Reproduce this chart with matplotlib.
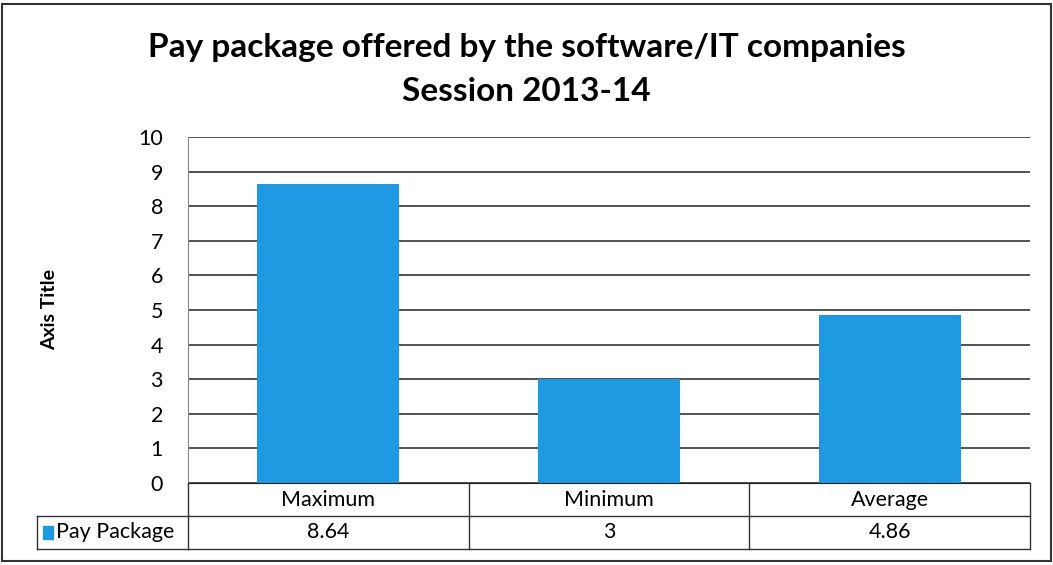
import numpy as np
import matplotlib.pyplot as plt
from matplotlib.patches import Rectangle
from matplotlib.lines import Line2D
import matplotlib.transforms as mtransforms

plt.rcParams['font.family'] = ['Lato', 'DejaVu Sans']

categories = ['Maximum', 'Minimum', 'Average']
pay_package = [8.64, 3, 4.86]
value_labels = ['8.64', '3', '4.86']
series_name = 'Pay Package'
bar_color = '#1f9ae2'

W, H = 1053, 565
fig = plt.figure(figsize=(W / 100, H / 100), dpi=100)

# plot area in pixels
left, right, top, bottom = 188, 1030, 137, 483
ax = fig.add_axes([left / W, 1 - bottom / H, (right - left) / W, (bottom - top) / H])

x = np.arange(len(categories))
ax.bar(x, pay_package, width=0.507, color=bar_color, zorder=2)
ax.set_xlim(-0.5, len(categories) - 0.5)
ax.set_ylim(0, 10)
ax.set_yticks(range(0, 11))
ax.yaxis.grid(True, color='#222222', linewidth=1.1, zorder=1)
ax.set_xticks([])
ax.tick_params(axis='y', length=0, labelsize=15.5, pad=18)
for s in ['top', 'right']:
    ax.spines[s].set_visible(False)
ax.spines['left'].set_color('#888888')
ax.spines['left'].set_linewidth(0.8)
ax.spines['bottom'].set_color('#222222')
ax.set_ylabel('Axis Title', fontsize=14, fontweight='bold', labelpad=58)

# data table below the axis
row_h = 33 / (bottom - top)
trans = mtransforms.blended_transform_factory(ax.transData, ax.transAxes)
lw = 1.0
lc = '#333333'
fs = 15.5
edges = np.arange(len(categories) + 1) - 0.5
for e in edges:
    ax.add_line(Line2D([e, e], [0, -2 * row_h], transform=trans, color=lc, lw=lw, clip_on=False))
for yy in [-row_h, -2 * row_h]:
    ax.add_line(Line2D([-0.5, edges[-1]], [yy, yy], transform=trans, color=lc, lw=lw, clip_on=False))
for i, (c, v) in enumerate(zip(categories, value_labels)):
    ax.text(i, -0.5 * row_h, c, transform=trans, ha='center', va='center', fontsize=fs)
    ax.text(i, -1.5 * row_h, v, transform=trans, ha='center', va='center', fontsize=fs)

# legend cell on the left of the table
lx0 = (37 - left) / (right - left)
ax.add_line(Line2D([lx0, 0], [-row_h, -row_h], transform=ax.transAxes, color=lc, lw=lw, clip_on=False))
ax.add_line(Line2D([lx0, 0], [-2 * row_h, -2 * row_h], transform=ax.transAxes, color=lc, lw=lw, clip_on=False))
ax.add_line(Line2D([lx0, lx0], [-row_h, -2 * row_h], transform=ax.transAxes, color=lc, lw=lw, clip_on=False))
ax.add_patch(Rectangle((lx0 + 0.007, -1.5 * row_h - 0.018), 0.012, 0.036, transform=ax.transAxes,
                       color=bar_color, clip_on=False))
ax.text(lx0 + 0.022, -1.5 * row_h, series_name, transform=ax.transAxes, ha='left', va='center', fontsize=fs)

fig.text(0.5, 1 - 48 / H, 'Pay package offered by the software/IT companies', ha='center', va='center',
         fontsize=24, fontweight='bold')
fig.text(0.5, 1 - 92 / H, 'Session 2013-14', ha='center', va='center', fontsize=24, fontweight='bold')

fig.patches.append(Rectangle((2 / W, 4 / H), 1 - 4 / W, 1 - 8 / H, transform=fig.transFigure,
                             fill=False, edgecolor='#333333', linewidth=1.5))

fig.savefig('out.png', dpi=100)
